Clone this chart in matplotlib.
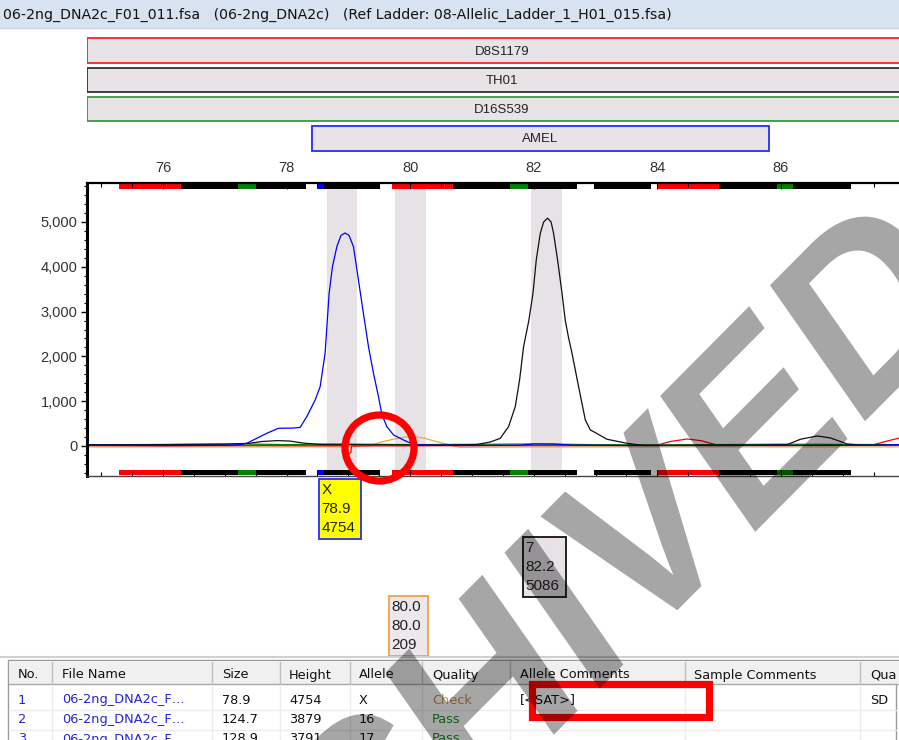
import matplotlib
matplotlib.use('Agg')
import matplotlib.pyplot as plt
from matplotlib.patches import Rectangle, Ellipse, PathPatch
from matplotlib.textpath import TextPath
from matplotlib.font_manager import FontProperties
from matplotlib.transforms import Affine2D
from matplotlib.ticker import FixedLocator, MultipleLocator, FuncFormatter

# ---- values ----
title_text = '06-2ng_DNA2c_F01_011.fsa   (06-2ng_DNA2c)   (Ref Ladder: 08-Allelic_Ladder_1_H01_015.fsa)'

marker_names = ['D8S1179', 'TH01', 'D16S539', 'AMEL']
marker_start = [74.77, 74.77, 74.77, 78.41]
marker_end = [89.5, 89.5, 89.5, 85.80]
marker_colors = ['#ff2020', '#303030', '#3a9a3a', '#2a2aff']

# allele bins drawn along the top and bottom of the plot
bin_start = [75.29, 76.29, 77.21, 77.51, 78.49, 78.61, 79.71, 80.70, 81.62, 81.91,
             82.98, 84.00, 84.99, 85.94, 86.20]
bin_end = [76.29, 77.21, 77.51, 78.32, 78.61, 79.51, 80.70, 81.62, 81.91, 82.70,
           83.89, 84.99, 85.94, 86.20, 87.13]
bin_colors = ['red', 'black', 'green', 'black', 'blue', 'black', 'red', 'black', 'green',
              'black', 'black', 'red', 'black', 'green', 'black']

band_start = [78.66, 79.76, 81.96]
band_end = [79.14, 80.26, 82.45]

blue_bp = [74.77, 76.0, 77.0, 77.25, 77.355, 77.517, 77.679, 77.867, 78.11, 78.219, 78.327,
           78.462, 78.543, 78.623, 78.656, 78.688, 78.742, 78.813, 78.88, 78.947, 79.01,
           79.082, 79.163, 79.244, 79.325, 79.406, 79.487, 79.542, 79.623, 79.73,
           79.891, 80.0, 80.162, 80.5, 81.0, 81.8, 82.0, 82.3, 82.6, 83.5, 85.0, 87.5, 87.91]
blue_rfu = [15, 10, 15, 30, 60, 171, 283, 395, 400, 415, 655,
            1027, 1324, 2068, 2750, 3408, 4002, 4449, 4700, 4754, 4700,
            4449, 3700, 2950, 2217, 1622, 1101, 700, 432, 246,
            134, 67, 20, 15, 10, 20, 45, 45, 20, 10, 10, 15, 30]

black_bp = [74.77, 75.5, 76.2, 77.0, 77.4, 77.6, 77.85, 78.05, 78.3, 78.6, 79.5, 80.5,
            81.077, 81.296, 81.457, 81.592, 81.70, 81.77, 81.835, 81.92, 81.987,
            82.04, 82.105, 82.16, 82.223, 82.28, 82.32, 82.385, 82.457, 82.51, 82.565,
            82.619, 82.725, 82.834, 82.915, 82.968, 83.185, 83.509, 83.778, 84.5, 85.0,
            85.4, 86.10, 86.315, 86.586, 86.80, 87.07, 87.29, 87.91]
black_rfu = [30, 30, 35, 40, 60, 100, 120, 110, 60, 30, 25, 20,
             33, 89, 171, 432, 877, 1473, 2217, 2800, 3408,
             4152, 4747, 5000, 5086, 5000, 4747, 4152, 3408, 2800, 2400,
             2068, 1324, 580, 357, 319, 150, 60, 11, 15, 20,
             20, 30, 150, 223, 180, 45, 20, 20]

red_bp = [74.77, 76.0, 77.5, 78.9, 78.96, 78.97, 79.04, 79.05, 80.5, 82.0, 83.5, 83.995,
          84.21, 84.48, 84.70, 84.97, 86.0, 87.50, 87.69, 87.92]
red_rfu = [10, 5, 10, 5, 0, -200, -150, 0, 5, 10, 10, 20,
           100, 156, 120, 20, 10, 30, 100, 180]

orange_bp = [74.77, 76.0, 78.0, 79.0, 79.35, 79.51, 79.72, 79.92, 80.0, 80.11, 80.24,
             80.37, 80.53, 80.70, 80.81, 82.0, 84.0, 86.0, 87.91]
orange_rfu = [-20, -20, -20, -15, 10, 80, 150, 200, 209, 200, 170,
              118, 60, 0, -30, -20, -20, -20, -20]

green_bp = [74.77, 76.0, 77.0, 77.5, 78.0, 78.7, 79.2, 80.0, 81.5, 82.0, 83.0, 84.0,
            85.5, 86.0, 87.0, 87.91]
green_rfu = [25, 30, 45, 40, 30, 45, 40, 30, 40, 45, 30, 25, 35, 40, 35, 30]

peak_bp = [78.9, 80.0, 82.2]
peak_text = [['X', '78.9', '4754'], ['80.0', '80.0', '209'], ['7', '82.2', '5086']]

table_columns = ['No.', 'File Name', 'Size', 'Height', 'Allele', 'Quality',
                 'Allele Comments', 'Sample Comments', 'Qua']
row_no = ['1', '2', '3']
row_file = ['06-2ng_DNA2c_F\u2026', '06-2ng_DNA2c_F\u2026', '06-2ng_DNA2c_F\u2026']
row_size = ['78.9', '124.7', '128.9']
row_height = ['4754', '3879', '3791']
row_allele = ['X', '16', '17']
row_quality = ['Check', 'Pass', 'Pass']
row_allele_comments = ['[<SAT>]', '', '']
row_qua = ['SD', '', '']

watermark = 'ARCHIVED'

# ---- layout ----
W, H = 899, 740
X0, X1 = 74.77, 87.91
Y0, Y1 = -670, 5870
PL, PT, PB = 87, 183, 476

fig = plt.figure(figsize=(W / 100, H / 100), dpi=100)
fig.patch.set_facecolor('white')

bg = fig.add_axes([0, 0, 1, 1], zorder=0)
bg.set_xlim(0, W)
bg.set_ylim(H, 0)
bg.axis('off')

ui = 'DejaVu Sans'
ar = 'Liberation Sans'

# title strip
bg.add_patch(Rectangle((0, 0), W, 28, facecolor='#d7e3f1', edgecolor='none'))
bg.plot([0, W], [28, 28], color='#c6d3e3', lw=1)
bg.text(3, 14.5, title_text, family=ui, fontsize=10.2, va='center', ha='left', color='#111111')

# marker bars
mk = fig.add_axes([PL / W, 1 - 153 / H, (W - PL) / W, (153 - 36) / H], zorder=1)
mk.set_xlim(X0, X1)
mk.set_ylim(4, 0)
mk.axis('off')
for i, name in enumerate(marker_names):
    y = i + 0.08
    mk.add_patch(Rectangle((marker_start[i], y), marker_end[i] - marker_start[i], 0.84,
                           facecolor='#e7e3e7', edgecolor=marker_colors[i], lw=1.3))
    xc = (marker_start[i] + min(marker_end[i], 88.2)) / 2
    mk.text(xc, y + 0.45, name, family=ar, fontsize=9.5, ha='center', va='center',
            color='#222222')

# main electropherogram
ax = fig.add_axes([PL / W, 1 - PB / H, (W - PL) / W, (PB - PT) / H], zorder=2)
ax.set_facecolor('none')
ax.set_xlim(X0, X1)
ax.set_ylim(Y0, Y1)

for s, e in zip(band_start, band_end):
    ax.axvspan(s, e, ymin=0.022, ymax=0.979, color='#e6e2e6', lw=0)
for s, e, c in zip(bin_start, bin_end, bin_colors):
    ax.axvspan(s, e, ymin=0.979, ymax=0.997, color=c, lw=0)
    ax.axvspan(s, e, ymin=0.003, ymax=0.022, color=c, lw=0)

ax.plot(orange_bp, orange_rfu, color='#f3a04a', lw=0.9)
ax.plot(red_bp, red_rfu, color='#ff0000', lw=0.9)
ax.plot(green_bp, green_rfu, color='#008000', lw=0.9)
ax.plot(black_bp, black_rfu, color='#111111', lw=0.9)
ax.plot(blue_bp, blue_rfu, color='#0000ff', lw=0.9)

ax.xaxis.tick_top()
ax.xaxis.set_major_locator(FixedLocator([76, 78, 80, 82, 84, 86]))
ax.xaxis.set_minor_locator(MultipleLocator(0.5))
ax.tick_params(axis='x', which='both', top=True, bottom=True, direction='in',
               labeltop=True, labelbottom=False, color='black')
ax.tick_params(axis='x', which='major', length=4, width=0.8, pad=6, labelsize=10.5,
               labelcolor='#333333')
ax.tick_params(axis='x', which='minor', length=3, width=0.8)
ax.yaxis.set_major_locator(FixedLocator([0, 1000, 2000, 3000, 4000, 5000]))
ax.yaxis.set_minor_locator(MultipleLocator(200))
ax.yaxis.set_major_formatter(FuncFormatter(lambda v, p: f'{int(v):,}'))
ax.tick_params(axis='y', which='major', direction='out', length=4, width=1, pad=3,
               labelsize=10.5, labelcolor='#333333')
ax.tick_params(axis='y', which='minor', direction='out', length=2.5, width=0.8)
for lab in ax.get_xticklabels() + ax.get_yticklabels():
    lab.set_family(ar)
ax.spines['left'].set_linewidth(2.2)
ax.spines['top'].set_linewidth(1.6)
ax.spines['bottom'].set_linewidth(1.0)
ax.spines['bottom'].set_color('#444444')
ax.spines['right'].set_visible(False)


def bp_to_px(bp):
    return PL + (bp - X0) / (X1 - X0) * (W - PL)


# peak label boxes
box_top = [479, 596, 537]
box_w = [42, 39, 43]
box_face = ['#ffff00', '#ebe7eb', '#e6e2e6']
box_edge = ['#2a2aff', '#f0a050', '#111111']
for i, bp in enumerate(peak_bp):
    xc = bp_to_px(bp)
    x = xc - box_w[i] / 2 - 2
    bg.add_patch(Rectangle((x, box_top[i]), box_w[i], 60, facecolor=box_face[i],
                           edgecolor=box_edge[i], lw=1.3))
    for j, t in enumerate(peak_text[i]):
        bg.text(x + 2.5, box_top[i] + 11 + 19 * j, t, family=ar, fontsize=11,
                ha='left', va='center', color='#222222')

# results table
bg.plot([0, W], [657, 657], color='#d0d0d0', lw=1.5)
bg.add_patch(Rectangle((8, 660), W, 90, facecolor='white', edgecolor='#9a9a9a', lw=1))
bg.add_patch(Rectangle((9, 661), W, 23, facecolor='#f0f0f0', edgecolor='none'))
bg.plot([9, W], [684, 684], color='#a8a8a8', lw=1)
col_x = [8, 52, 212, 280, 350, 422, 510, 685, 860]
text_x = [18, 62, 222, 289, 359, 432, 520, 694, 870]
for cx in col_x[1:]:
    bg.plot([cx, cx], [662, 684], color='#bdbdbd', lw=1)
    bg.plot([cx, cx], [685, 740], color='#ececec', lw=1)
bg.plot([896, 896], [685, 740], color='#9a9a9a', lw=1)
for ry in [710, 730]:
    bg.plot([9, 896], [ry, ry], color='#ececec', lw=1)
for name, tx in zip(table_columns, text_x):
    bg.text(tx, 675, name, family=ui, fontsize=9.3, ha='left', va='center', color='#111111')
quality_colors = {'Check': '#c4904c', 'Pass': '#1f8a1f'}
for r in range(3):
    ty = 700 + 19.5 * r
    cells = [row_no[r], row_file[r], row_size[r], row_height[r], row_allele[r],
             row_quality[r], row_allele_comments[r], '', row_qua[r]]
    for k, (cell, tx) in enumerate(zip(cells, text_x)):
        color = '#111111'
        if k < 2:
            color = '#2424d8'
        elif k == 5:
            color = quality_colors[cell]
        bg.text(tx, ty, cell, family=ui, fontsize=9.3, ha='left', va='center', color=color)

# red annotations on top
ov = fig.add_axes([0, 0, 1, 1], zorder=10)
ov.set_facecolor('none')
ov.set_xlim(0, W)
ov.set_ylim(H, 0)
ov.axis('off')
ov.add_patch(Ellipse((379.5, 448), 69, 66, facecolor='none', edgecolor='#ff0000', lw=5.2))
ov.add_patch(Rectangle((531.5, 683.5), 177, 33, facecolor='none', edgecolor='#ff0000', lw=5.2))

# watermark: rotated text that was then stretched vertically
wm = fig.add_axes([0, 0, 1, 1], zorder=11)
wm.set_facecolor('none')
wm.set_xlim(0, W)
wm.set_ylim(0, H)
wm.axis('off')
wm_path = TextPath((0, 0), watermark, size=215,
                   prop=FontProperties(family=ar, weight='bold'))
wm_tf = Affine2D().rotate_deg(40).scale(1, 1.2).translate(112.8, -438.7) + wm.transData
wm.add_patch(PathPatch(wm_path, transform=wm_tf, facecolor='black', edgecolor='none',
                       alpha=0.35))

fig.savefig('out.png', dpi=100)
